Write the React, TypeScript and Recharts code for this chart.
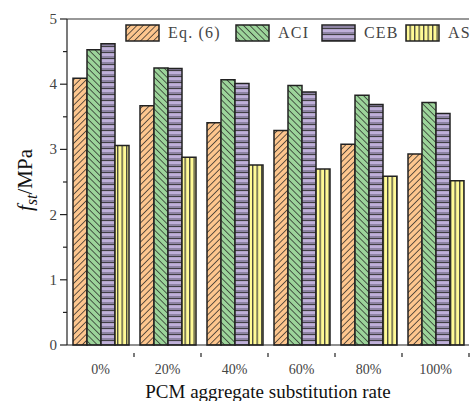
import React from 'react';
import { BarChart, Bar, XAxis, YAxis, ReferenceLine } from 'recharts';

const categories = ['0%', '20%', '40%', '60%', '80%', '100%'];
const eq6 = [4.09, 3.67, 3.41, 3.29, 3.08, 2.93];
const aci = [4.53, 4.25, 4.07, 3.98, 3.83, 3.72];
const ceb = [4.62, 4.24, 4.01, 3.88, 3.69, 3.55];
const as = [3.06, 2.88, 2.76, 2.70, 2.59, 2.52];
const yTicks = [0, 0.5, 1, 1.5, 2, 2.5, 3, 3.5, 4, 4.5, 5];

const SERIES = [
  { key: 'eq6', name: 'Eq. (6)', pattern: 'patEq6' },
  { key: 'aci', name: 'ACI', pattern: 'patAci' },
  { key: 'ceb', name: 'CEB', pattern: 'patCeb' },
  { key: 'as', name: 'AS', pattern: 'patAs' },
];

const data = categories.map((c, i) => ({
  name: c,
  eq6: eq6[i],
  aci: aci[i],
  ceb: ceb[i],
  as: as[i],
}));

const W = 470;
const H = 401;
const M = { top: 19, right: 1, bottom: 0, left: 0 };
const X_AXIS_H = 56;
const Y_AXIS_W = 67;
const BAND = (W - M.left - M.right - Y_AXIS_W) / categories.length;
const LEGEND_X = [125, 235, 321, 405];

const tickFont = '"Liberation Serif", "DejaVu Serif", serif';

const YTick = (props: any) => {
  const { x, y, payload } = props;
  const major = Number.isInteger(payload.value);
  return (
    <g>
      <line x1={x - (major ? 7 : 4)} x2={x} y1={y} y2={y} stroke="#222" strokeWidth={1.2} />
      {major && (
        <text x={x - 10} y={y} dy={5} textAnchor="end" fontSize={15} fill="#444" fontFamily={tickFont}>
          {payload.value}
        </text>
      )}
    </g>
  );
};

const XTick = (props: any) => {
  const { x, y, payload } = props;
  return (
    <g>
      <line x1={x + BAND / 2} x2={x + BAND / 2} y1={y} y2={y + 4} stroke="#222" strokeWidth={1.2} />
      <text x={x} y={y + 21} textAnchor="middle" fontSize={14} fill="#444" fontFamily={tickFont}>
        {payload.value}
      </text>
    </g>
  );
};

const Patterns = () => (
  <defs>
    <pattern id="patEq6" patternUnits="userSpaceOnUse" width={4.5} height={4.5} patternTransform="rotate(45)">
      <rect width={4.5} height={4.5} fill="#FDC68E" />
      <line x1={0} y1={0} x2={0} y2={4.5} stroke="#222" strokeWidth={1.4} />
    </pattern>
    <pattern id="patAci" patternUnits="userSpaceOnUse" width={4.5} height={4.5} patternTransform="rotate(-45)">
      <rect width={4.5} height={4.5} fill="#9CD49A" />
      <line x1={0} y1={0} x2={0} y2={4.5} stroke="#222" strokeWidth={1.4} />
    </pattern>
    <pattern id="patCeb" patternUnits="userSpaceOnUse" width={6} height={6}>
      <rect width={6} height={6} fill="#BFB0DA" />
      <rect y={2} width={6} height={2} fill="#8E84A4" />
      <line x1={0} y1={4.6} x2={6} y2={4.6} stroke="#333" strokeWidth={1} />
    </pattern>
    <pattern id="patAs" patternUnits="userSpaceOnUse" width={4.5} height={4.5}>
      <rect width={4.5} height={4.5} fill="#FFFA96" />
      <line x1={0.7} y1={0} x2={0.7} y2={4.5} stroke="#333" strokeWidth={1.2} />
    </pattern>
  </defs>
);

const LegendOverlay = () => (
  <div style={{ position: 'absolute', left: 0, top: 24, width: W, height: 20, pointerEvents: 'none' }}>
    {SERIES.map((s, i) => (
      <div key={s.key} style={{ position: 'absolute', left: LEGEND_X[i], top: 0, display: 'flex', alignItems: 'center' }}>
        <svg width={35} height={18}>
          <rect x={1} y={1} width={33} height={16} fill={`url(#${s.pattern})`} stroke="#222" strokeWidth={1.5} />
        </svg>
        <span style={{ marginLeft: 8, fontSize: 16, letterSpacing: 1.2, color: '#444', fontFamily: tickFont, whiteSpace: 'nowrap' }}>{s.name}</span>
      </div>
    ))}
  </div>
);

const YLabel = () => (
  <text transform="translate(32, 180) rotate(-90)" textAnchor="middle" fontFamily={tickFont} fontSize={21} fill="#111">
    <tspan fontStyle="italic">f</tspan>
    <tspan fontStyle="italic" fontSize={16} dy={5}>st</tspan>
    <tspan dy={-5}>/MPa</tspan>
  </text>
);

export default function App() {
  return (
    <div style={{ position: 'absolute', left: 0, top: 0, width: W, height: H, background: '#fff' }}>
      <BarChart width={W} height={H} data={data} margin={M} barCategoryGap={6} barGap={0}>
        <Patterns />
        <XAxis
          dataKey="name"
          stroke="#222"
          strokeWidth={1.2}
          tickLine={false}
          tick={<XTick />}
          height={X_AXIS_H}
          label={{ value: 'PCM aggregate substitution rate', position: 'insideBottom', offset: 3, fontSize: 19, fill: '#111', fontFamily: tickFont }}
        />
        <YAxis
          domain={[0, 5]}
          ticks={yTicks}
          interval={0}
          width={Y_AXIS_W}
          stroke="#222"
          strokeWidth={1.2}
          tickLine={false}
          tickSize={0}
          tickMargin={0}
          tick={<YTick />}
          label={<YLabel />}
        />
        <ReferenceLine y={5} stroke="#333" strokeWidth={1.2} />
        {SERIES.map((s) => (
          <Bar
            key={s.key}
            dataKey={s.key}
            name={s.name}
            fill={`url(#${s.pattern})`}
            stroke="#222"
            strokeWidth={1.5}
            isAnimationActive={false}
          />
        ))}
      </BarChart>
      <LegendOverlay />
    </div>
  );
}
